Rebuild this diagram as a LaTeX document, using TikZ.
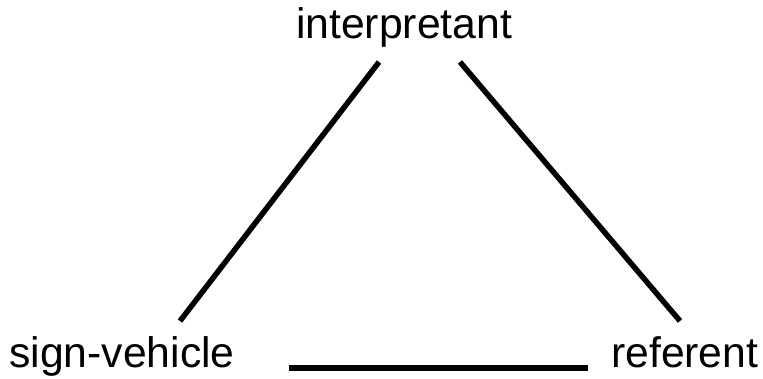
\documentclass[tikz,border=0pt]{standalone}
\usepackage{fontspec}
\setmainfont{Liberation Sans}
\begin{document}
\begin{tikzpicture}[x=1pt,y=-1pt,
  lbl/.style={inner sep=0pt,font=\fontsize{42.7}{50}\selectfont},
  edge/.style={line width=5.5pt,line cap=butt}]
\useasboundingbox (0,0) rectangle (763,378);
\node[lbl,anchor=base] (interp) at (404,38) {interpretant};
\node[lbl,anchor=base west] (sign) at (9,367) {sign-vehicle};
\node[lbl,anchor=base west] (ref) at (611,367) {referent};
\coordinate (a1) at (379,62);
\coordinate (a2) at (180,321);
\coordinate (b1) at (460,62);
\coordinate (b2) at (680,321);
\coordinate (c1) at (289,368);
\coordinate (c2) at (588,368);
\draw[edge] (a1) -- (a2);
\draw[edge] (b1) -- (b2);
\draw[edge] (c1) -- (c2);
\end{tikzpicture}
\end{document}
